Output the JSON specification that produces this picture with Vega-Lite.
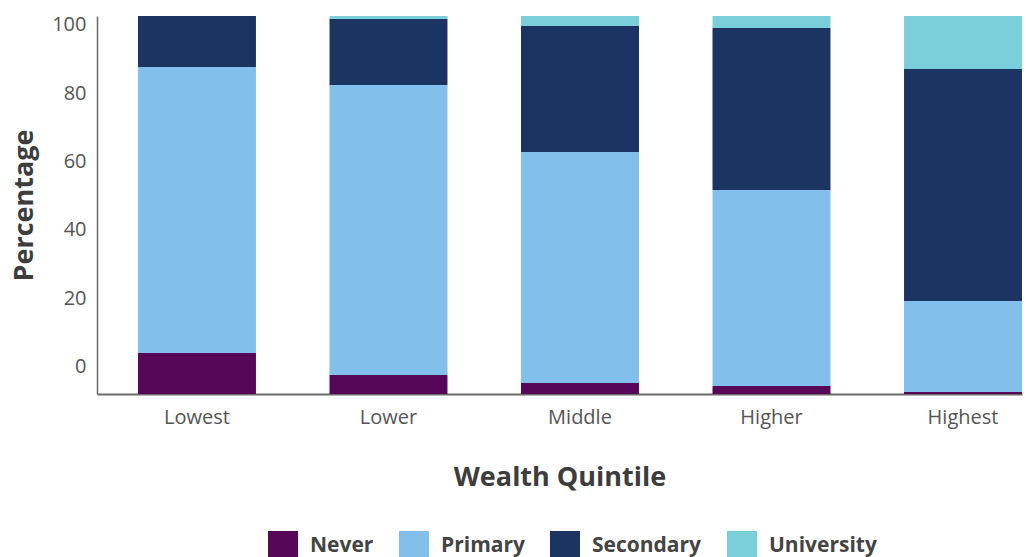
{
  "$schema": "https://vega.github.io/schema/vega-lite/v6.json",
  "width": 925,
  "height": 378,
  "autosize": {"type": "none"},
  "padding": {"left": 97, "top": 16, "right": 4, "bottom": 163},
  "background": "white",
  "config": {"view": {"stroke": null}, "font": "Open Sans"},
  "data": {
    "values": [
      {"quintile": "Lowest", "level": "Never", "value": 10.85},
      {"quintile": "Lowest", "level": "Primary", "value": 75.66},
      {"quintile": "Lowest", "level": "Secondary", "value": 13.49},
      {"quintile": "Lowest", "level": "University", "value": 0},
      {"quintile": "Lower", "level": "Never", "value": 5.03},
      {"quintile": "Lower", "level": "Primary", "value": 76.72},
      {"quintile": "Lower", "level": "Secondary", "value": 17.46},
      {"quintile": "Lower", "level": "University", "value": 0.79},
      {"quintile": "Middle", "level": "Never", "value": 2.91},
      {"quintile": "Middle", "level": "Primary", "value": 61.11},
      {"quintile": "Middle", "level": "Secondary", "value": 33.33},
      {"quintile": "Middle", "level": "University", "value": 2.65},
      {"quintile": "Higher", "level": "Never", "value": 2.12},
      {"quintile": "Higher", "level": "Primary", "value": 51.85},
      {"quintile": "Higher", "level": "Secondary", "value": 42.86},
      {"quintile": "Higher", "level": "University", "value": 3.17},
      {"quintile": "Highest", "level": "Never", "value": 0.53},
      {"quintile": "Highest", "level": "Primary", "value": 24.07},
      {"quintile": "Highest", "level": "Secondary", "value": 61.38},
      {"quintile": "Highest", "level": "University", "value": 14.02}
    ]
  },
  "layer": [
    {
      "mark": {"type": "bar"},
      "encoding": {
        "x": {
          "field": "quintile",
          "type": "nominal",
          "sort": ["Lowest", "Lower", "Middle", "Higher", "Highest"],
          "scale": {"paddingInner": 0.384, "paddingOuter": 0.107, "align": 1},
          "axis": {
            "title": "Wealth Quintile",
            "labelAngle": 0,
            "ticks": false,
            "domainColor": "#6b6b6b",
            "domainWidth": 2,
            "labelFontSize": 20,
            "labelColor": "#555555",
            "labelPadding": 13,
            "titleFontSize": 27,
            "titleFontWeight": "bold",
            "titleColor": "#3d3d3d",
            "titlePadding": 37
          }
        },
        "y": {
          "field": "value",
          "type": "quantitative",
          "stack": "zero",
          "scale": {"domain": [0, 100], "nice": false},
          "axis": null
        },
        "order": {"field": "level", "type": "nominal", "sort": "ascending"},
        "color": {
          "field": "level",
          "type": "nominal",
          "scale": {
            "domain": ["Never", "Primary", "Secondary", "University"],
            "range": ["#560757", "#82bfea", "#1c3462", "#7acfdb"]
          },
          "legend": {
            "title": null,
            "orient": "none",
            "direction": "horizontal",
            "legendX": 171,
            "legendY": 515,
            "symbolType": "square",
            "symbolSize": 900,
            "symbolStrokeWidth": 0,
            "symbolOpacity": 1,
            "labelFontSize": 21,
            "labelFontWeight": "bold",
            "labelColor": "#444444",
            "labelOffset": 12,
            "columnPadding": 25
          }
        }
      }
    },
    {
      "mark": {"type": "rule", "opacity": 0},
      "encoding": {
        "y": {
          "field": "value",
          "type": "quantitative",
          "scale": {"domain": [-8, 102.6], "nice": false, "zero": false},
          "axis": {
            "orient": "left",
            "values": [0, 20, 40, 60, 80, 100],
            "grid": false,
            "ticks": false,
            "domainColor": "#6b6b6b",
            "domainWidth": 1.5,
            "labelFontSize": 20,
            "labelColor": "#555555",
            "labelPadding": 11,
            "title": "Percentage",
            "titleFontSize": 27,
            "titleFontWeight": "bold",
            "titleColor": "#3d3d3d",
            "titlePadding": 13
          }
        }
      }
    }
  ],
  "resolve": {"scale": {"y": "independent"}}
}
